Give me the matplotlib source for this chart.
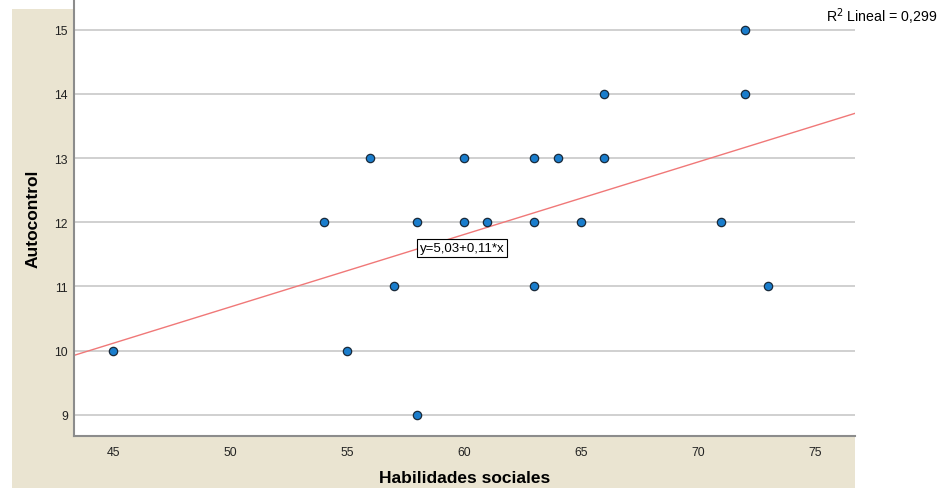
import matplotlib.pyplot as plt
from matplotlib.patches import Rectangle

plt.rcParams['font.family'] = ['Liberation Sans', 'DejaVu Sans']

# data
habilidades = [45, 54, 55, 56, 57, 58, 58, 60, 60, 61, 63, 63, 63, 64, 65, 66, 66, 71, 72, 72, 73]
autocontrol = [10, 12, 10, 13, 11, 12, 9, 13, 12, 12, 13, 12, 11, 13, 12, 14, 13, 12, 15, 14, 11]
x_ticks = [45, 50, 55, 60, 65, 70, 75]
y_ticks = [9, 10, 11, 12, 13, 14, 15]
b0, b1 = 5.03, 0.113
r2_text = 'R$^2$ Lineal = 0,299'
eq_text = 'y=5,03+0,11*x'

fig = plt.figure(figsize=(9.52, 4.89), dpi=100)
fig.patch.set_facecolor('white')

# beige frame behind the plot area
fig.patches.append(Rectangle((12 / 952, 0), (855 - 12) / 952, 1 - 10 / 489,
                             transform=fig.transFigure, facecolor='#EAE4D1',
                             edgecolor='none', zorder=0))

ax = fig.add_axes([74 / 952, 1 - 437 / 489, (855 - 74) / 952, 437 / 489])
ax.set_zorder(2)
ax.set_facecolor('white')
ax.set_xlim(43.33, 76.71)
ax.set_ylim(8.67, 15.48)

ax.set_yticks(y_ticks)
ax.set_xticks(x_ticks)
ax.tick_params(length=0, labelsize=8.8, colors='#222222')
ax.tick_params(axis='y', pad=4.5)
ax.tick_params(axis='x', pad=7)
ax.grid(axis='y', color='#C8C8C8', linewidth=1.2)
ax.set_axisbelow(True)
for s in ['top', 'right']:
    ax.spines[s].set_visible(False)
for s in ['left', 'bottom']:
    ax.spines[s].set_color('#8C8C8C')
    ax.spines[s].set_linewidth(1.5)

# fit line
xl = ax.get_xlim()
ax.plot(xl, [b0 + b1 * xl[0], b0 + b1 * xl[1]], color='#F07878', linewidth=1, zorder=2)

ax.plot(habilidades, autocontrol, 'o', markersize=6, markerfacecolor='#1A7DCC',
        markeredgecolor='#1A2A3A', markeredgewidth=0.9, zorder=3)

ax.text(58.1, 11.6, eq_text, fontsize=9.5, ha='left', va='center',
        bbox=dict(boxstyle='square,pad=0.2', facecolor='white', edgecolor='black', linewidth=0.8))

fig.text(826 / 952, 1 - 17 / 489, r2_text, fontsize=10.2, ha='left', va='center')

ax.set_xlabel('Habilidades sociales', fontsize=12.5, fontweight='bold', labelpad=9)
ax.set_ylabel('Autocontrol', fontsize=12.5, fontweight='bold', labelpad=10)

fig.savefig('out.png', dpi=100)
